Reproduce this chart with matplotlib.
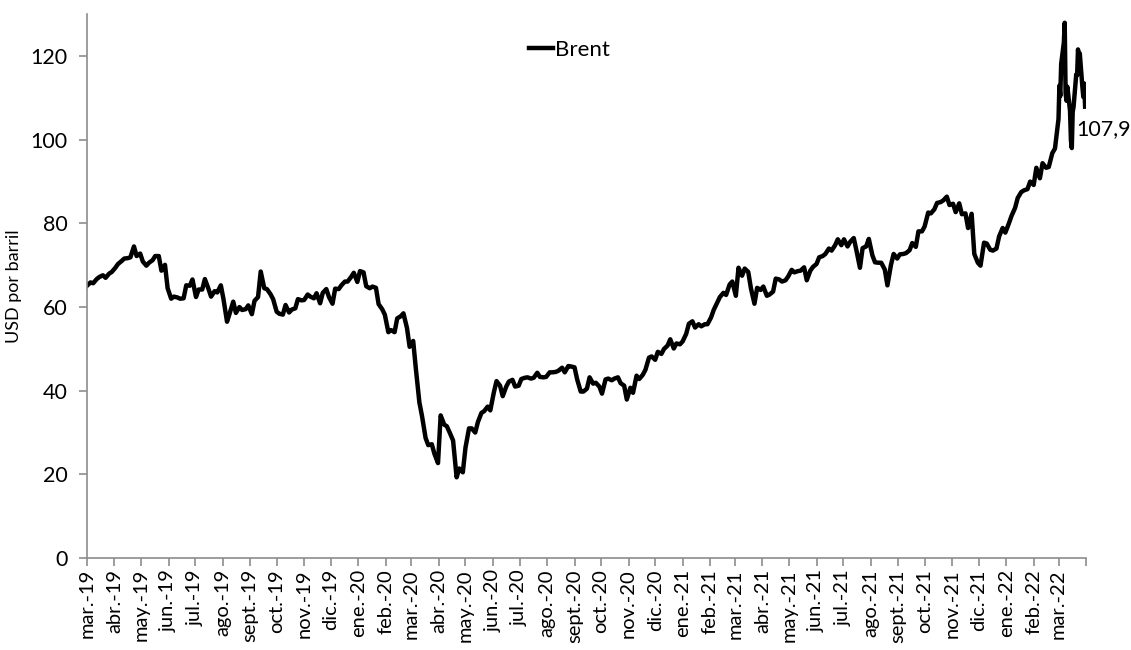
import matplotlib
matplotlib.use("Agg")
import matplotlib.pyplot as plt
import numpy as np
import pandas as pd

plt.rcParams['font.family'] = ['Lato', 'DejaVu Sans']

# Brent closes, USD per barrel
# Fridays
fri_2019 = [65.1, 65.7, 67.2, 67.0, 68.4, 70.3, 71.6, 71.9, 72.2, 70.9, 70.6, 72.2,
            68.7, 64.5, 62.5, 62.0, 65.2, 66.6, 64.2, 66.7, 62.5, 63.5, 61.9, 58.5,
            58.6, 59.3, 60.4, 61.5, 68.5, 64.3, 61.9, 58.4, 60.5, 59.4, 61.9, 61.7,
            62.5, 63.3, 63.4, 62.4, 64.4, 65.2, 66.1, 68.2]
fri_2020 = [68.6, 65.0, 64.9, 60.7, 58.2, 54.5, 57.3, 58.5, 50.5, 45.3, 33.9, 27.0,
            24.9, 34.1, 31.5, 28.1, 21.4, 26.4, 31.0, 32.5, 35.1, 35.3, 42.3, 38.7,
            42.2, 41.0, 42.8, 43.2, 43.1, 43.3, 43.3, 44.4, 44.8, 44.4, 45.8, 42.7,
            39.8, 43.2, 41.9, 39.3, 42.9, 42.9, 41.8, 37.9, 39.5, 42.8, 45.0, 48.2,
            49.3, 50.0, 52.3, 51.3]
fri_2021 = [51.8, 56.0, 55.1, 55.4, 55.9, 59.3, 62.4, 62.9, 66.1, 69.4, 69.2, 64.5,
            64.6, 64.9, 63.0, 66.8, 66.1, 67.3, 68.3, 68.7, 66.4, 69.6, 71.9, 72.7,
            73.5, 76.2, 76.2, 75.6, 73.6, 74.1, 76.3, 70.7, 70.6, 65.2, 72.7, 72.6,
            72.9, 75.3, 78.1, 79.3, 82.4, 84.9, 85.5, 84.4, 82.7, 82.2, 78.9, 72.7,
            69.9, 75.2, 73.5, 76.9, 77.8]
fri_2022 = [81.8, 86.1, 87.9, 90.0, 93.3, 94.4, 93.5, 97.9]
# Tuesdays
tue_2019 = [65.9, 66.7, 67.6, 68.0, 69.4, 71.0, 71.7, 74.5, 72.8, 69.9, 71.2, 72.2,
            70.1, 62.0, 62.3, 62.1, 65.1, 62.4, 64.2, 64.4, 63.8, 65.2, 56.5, 61.3,
            60.0, 59.5, 58.3, 62.4, 64.5, 63.1, 58.9, 58.2, 58.7, 59.7, 61.6, 63.0,
            62.1, 60.9, 64.3, 60.8, 64.3, 66.1, 67.2, 66.0]
tue_2020 = [68.3, 64.5, 64.6, 59.5, 54.0, 54.0, 57.8, 55.0, 51.9, 37.2, 28.7, 27.2,
            22.7, 31.9, 29.6, 19.3, 20.5, 31.0, 30.0, 34.7, 36.2, 39.6, 41.2, 41.0,
            42.6, 41.2, 43.1, 42.9, 44.3, 43.2, 44.4, 44.5, 45.5, 45.9, 45.6, 39.8,
            40.5, 41.7, 41.0, 42.7, 42.5, 43.2, 41.2, 40.7, 43.6, 43.8, 47.9, 47.4,
            48.8, 50.8, 50.1, 51.1]
tue_2021 = [53.6, 56.6, 55.9, 55.9, 57.5, 61.1, 63.4, 65.4, 62.7, 67.5, 68.4, 60.8,
            64.1, 62.7, 63.7, 66.6, 66.4, 68.9, 68.6, 69.5, 68.7, 70.3, 72.2, 74.0,
            74.8, 74.8, 74.5, 76.5, 69.4, 74.5, 72.4, 70.6, 69.0, 70.1, 71.6, 72.7,
            73.6, 74.4, 78.1, 82.6, 83.4, 85.1, 86.4, 84.7, 84.8, 82.4, 82.3, 70.6,
            75.4, 73.7, 74.0, 78.9]
tue_2022 = [80.0, 83.7, 87.5, 88.2, 89.2, 90.8, 93.3, 96.8]
# daily closes, March 2022
daily_mar22 = [104.97, 112.93, 110.46, 118.11, 123.21, 127.98, 111.14, 109.33, 112.67,
               106.90, 99.91, 98.02, 106.64, 107.93, 115.62, 115.48, 121.60, 119.03,
               120.65, 112.48, 110.23, 113.45, 107.91]

month_abbr = ['ene.', 'feb.', 'mar.', 'abr.', 'may.', 'jun.', 'jul.', 'ago.',
              'sept.', 'oct.', 'nov.', 'dic.']

fri = fri_2019 + fri_2020 + fri_2021 + fri_2022
tue = tue_2019 + tue_2020 + tue_2021 + tue_2022
s_fri = pd.Series(fri, index=pd.date_range("2019-03-01", periods=len(fri), freq="W-FRI"))
s_tue = pd.Series(tue, index=pd.date_range("2019-03-05", periods=len(tue), freq="W-TUE"))
s_mar = pd.Series(daily_mar22, index=pd.bdate_range("2022-03-01", "2022-03-31"))
brent = pd.concat([s_fri, s_tue, s_mar]).sort_index()

fig = plt.figure(figsize=(11.31, 6.5), dpi=100)
ax = fig.add_axes([0.0769, 0.1415, 0.8833, 0.8365])

ax.plot(brent.index, brent.values, color="black", lw=3.2, label="Brent",
        solid_joinstyle="round")

ax.set_ylim(0, 130)
ax.set_yticks(np.arange(0, 121, 20))
ax.set_xlim(pd.Timestamp("2019-03-01"), pd.Timestamp("2022-04-01"))

months = pd.date_range("2019-03-01", "2022-04-01", freq="MS")
ax.set_xticks(months)
labels = [f"{month_abbr[m.month - 1]}-{m.year % 100:02d}" for m in months]
labels[-1] = ""
ax.set_xticklabels(labels, rotation=90)

for s in ["top", "right"]:
    ax.spines[s].set_visible(False)
for s in ["left", "bottom"]:
    ax.spines[s].set_color("#8c8c8c")
    ax.spines[s].set_linewidth(1.2)
ax.tick_params(axis="both", color="#8c8c8c", length=6, width=1.2)
ax.tick_params(axis="y", labelsize=15.5, pad=8)
ax.tick_params(axis="x", labelsize=14.5, pad=2)

ax.set_ylabel("USD por barril", fontsize=13, labelpad=6)

ax.legend(loc="center", bbox_to_anchor=(0.483, 0.934), frameon=False, fontsize=16,
          handlelength=1.1, handletextpad=0.1)

ax.annotate(f"{brent.iloc[-1]:.1f}".replace(".", ","),
            xy=(brent.index[-1], brent.iloc[-1]),
            xytext=(-6, -16), textcoords="offset points", ha="left", va="center",
            fontsize=15.5)

fig.savefig("out.png", dpi=100)
